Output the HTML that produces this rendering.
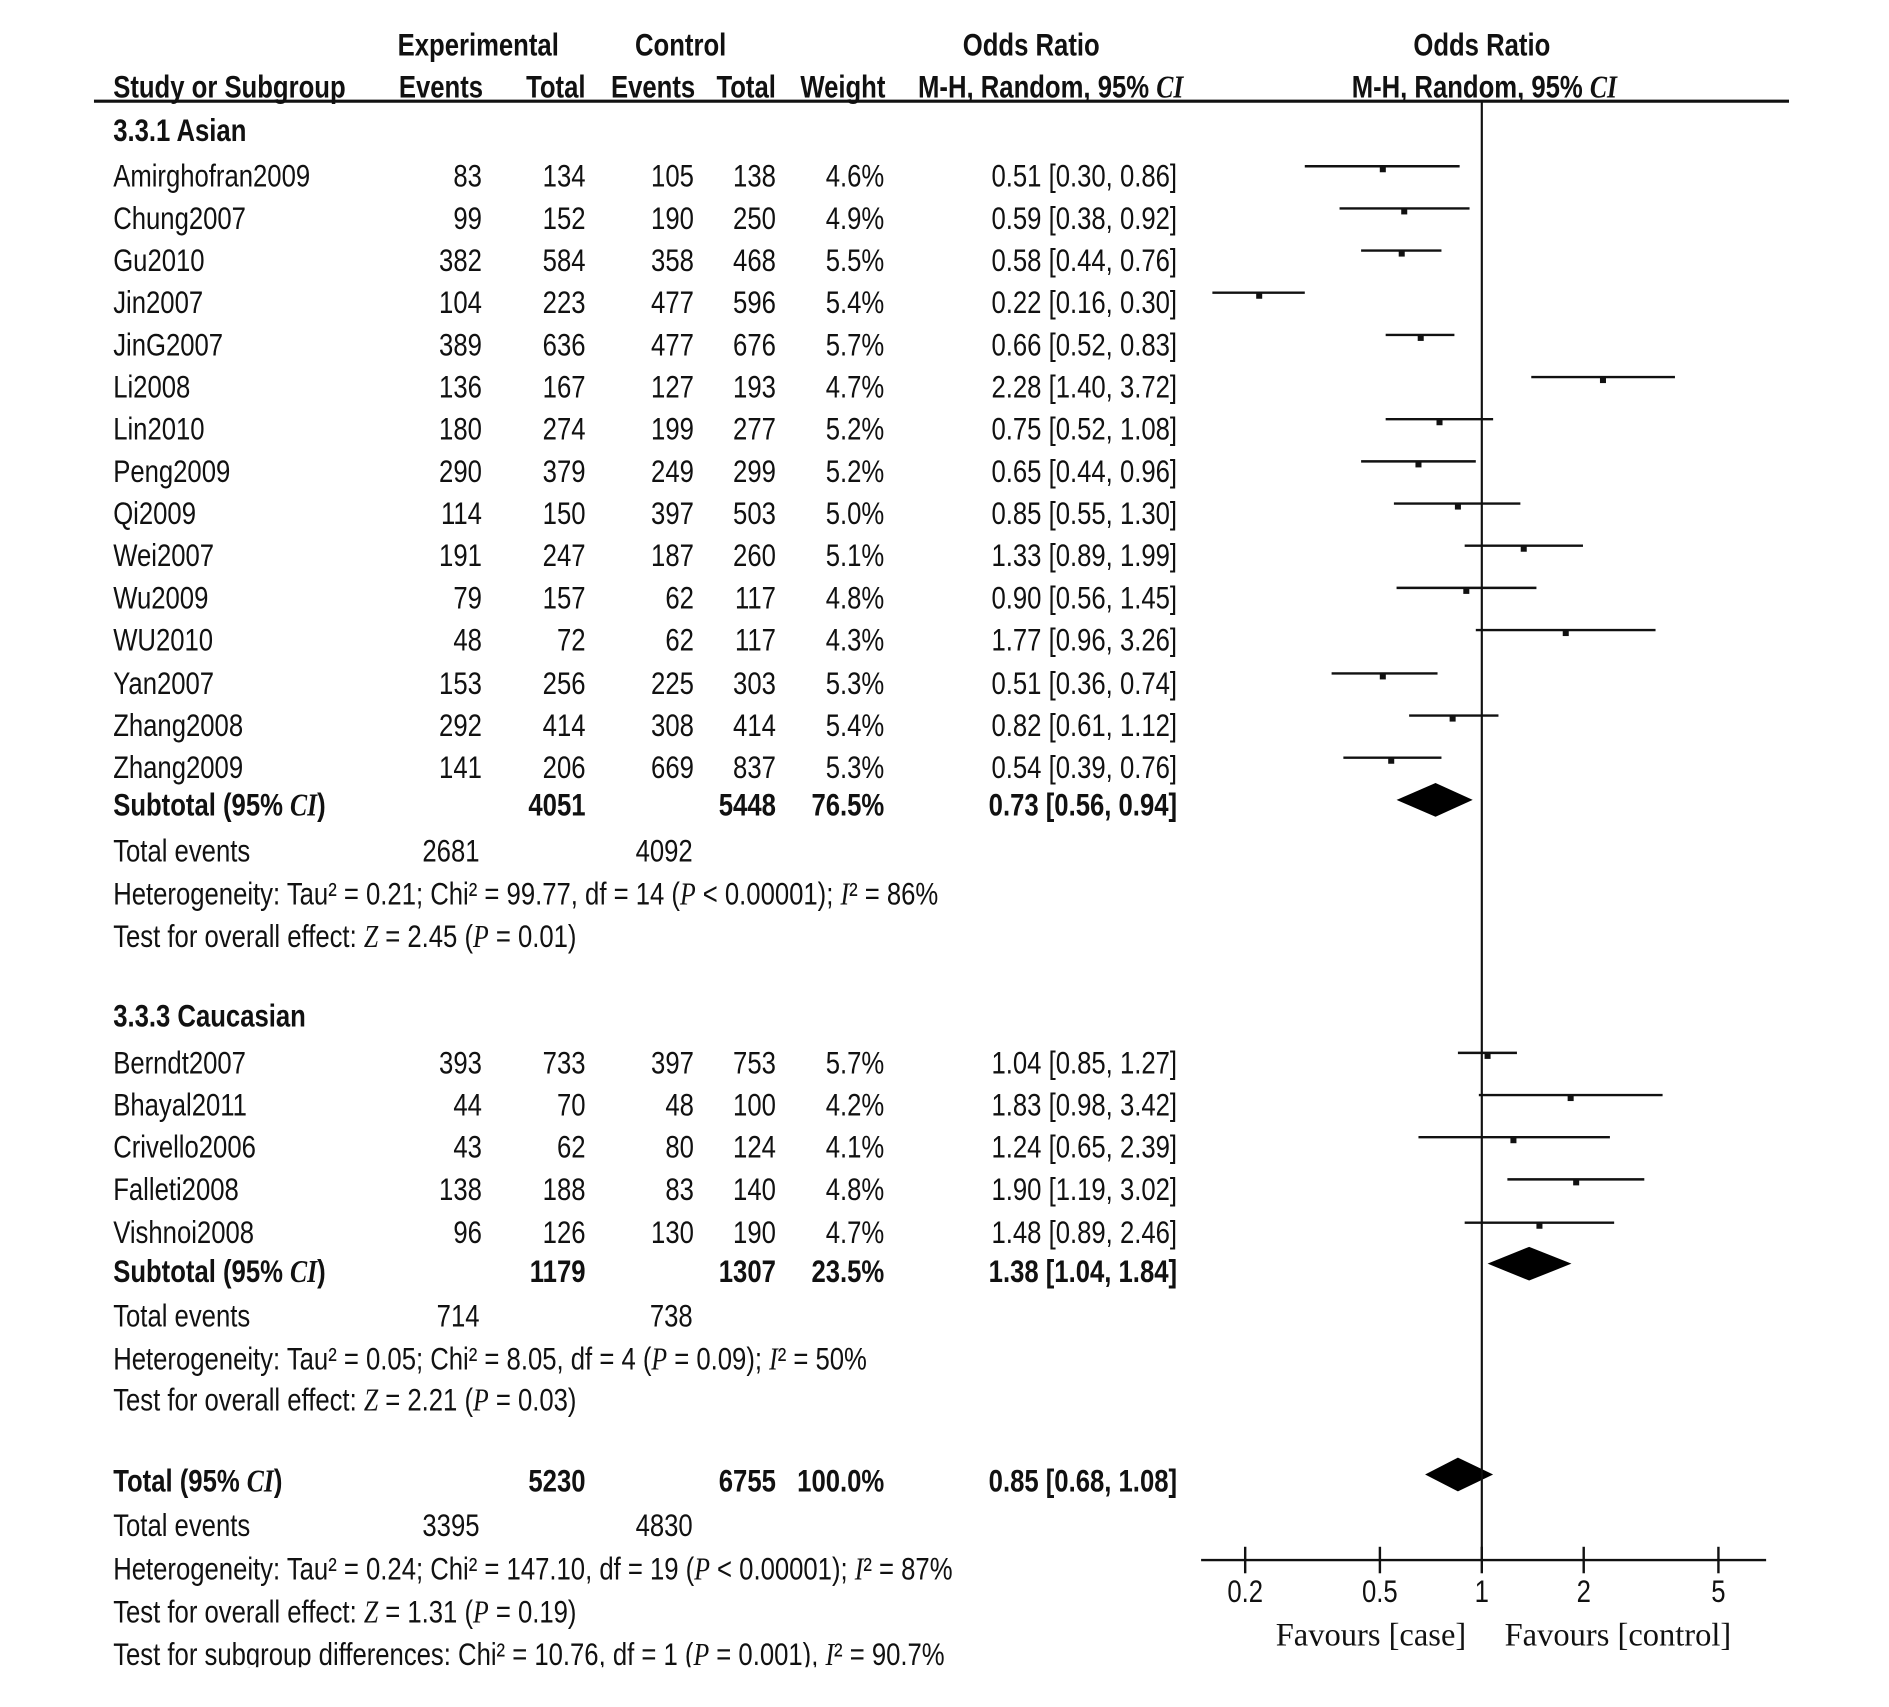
<!DOCTYPE html>
<html><head><meta charset="utf-8"><style>
html,body{margin:0;padding:0;background:#fff}
svg{display:block}
text{font-family:"Liberation Sans",Arial,sans-serif;font-size:26px;fill:#111}
.b{font-weight:bold}
.it{font-family:"Liberation Serif",serif;font-style:italic}
.serif{font-family:"Liberation Serif",serif;font-size:27px}
</style></head><body>
<svg id="chart" width="1889" height="1707" viewBox="0 0 1568 1417" preserveAspectRatio="none" xmlns="http://www.w3.org/2000/svg">
<rect width="1568" height="1417" fill="#fff"/>
<g id="txt" transform="scale(0.82,1)"></g>
<g id="plot"></g>
</svg>
<script>
const studies=["Amirghofran2009","Chung2007","Gu2010","Jin2007","JinG2007","Li2008","Lin2010","Peng2009","Qi2009","Wei2007","Wu2009","WU2010","Yan2007","Zhang2008","Zhang2009","Berndt2007","Bhayal2011","Crivello2006","Falleti2008","Vishnoi2008"];
const expEvents=[83,99,382,104,389,136,180,290,114,191,79,48,153,292,141,393,44,43,138,96];
const expTotal=[134,152,584,223,636,167,274,379,150,247,157,72,256,414,206,733,70,62,188,126];
const ctlEvents=[105,190,358,477,477,127,199,249,397,187,62,62,225,308,669,397,48,80,83,130];
const ctlTotal=[138,250,468,596,676,193,277,299,503,260,117,117,303,414,837,753,100,124,140,190];
const weights=["4.6%","4.9%","5.5%","5.4%","5.7%","4.7%","5.2%","5.2%","5.0%","5.1%","4.8%","4.3%","5.3%","5.4%","5.3%","5.7%","4.2%","4.1%","4.8%","4.7%"];
const orVal=[0.51,0.59,0.58,0.22,0.66,2.28,0.75,0.65,0.85,1.33,0.90,1.77,0.51,0.82,0.54,1.04,1.83,1.24,1.90,1.48];
const orLo=[0.30,0.38,0.44,0.16,0.52,1.40,0.52,0.44,0.55,0.89,0.56,0.96,0.36,0.61,0.39,0.85,0.98,0.65,1.19,0.89];
const orHi=[0.86,0.92,0.76,0.30,0.83,3.72,1.08,0.96,1.30,1.99,1.45,3.26,0.74,1.12,0.76,1.27,3.42,2.39,3.02,2.46];
const rowY=[146,181,216,251,286,321,356,391,426,461,496,531,567,602,637,882,917,952,987,1023];
const diamondOR=[0.73,1.38,0.85];
const diamondLo=[0.56,1.04,0.68];
const diamondHi=[0.94,1.84,1.08];
const diamondY=[664,1049,1224];
const ticks=[0.2,0.5,1,2,5];
const tickLabels=["0.2","0.5","1","2","5"];

const NS="http://www.w3.org/2000/svg";
const T=document.getElementById('txt'),P=document.getElementById('plot');
const SX=0.82;
const xs=v=>1230+281*Math.log10(v);
function txt(x,y,s,anchor,cls,name){
  const t=document.createElementNS(NS,'text');
  t.setAttribute('x',(x/SX).toFixed(1));t.setAttribute('y',y);
  if(anchor)t.setAttribute('text-anchor',anchor);
  if(cls)t.setAttribute('class',cls);
  t.innerHTML=s;
  
  
  T.appendChild(t);return t;
}
function el(tag,attrs,name){
  const e=document.createElementNS(NS,tag);
  for(const k in attrs)e.setAttribute(k,attrs[k]);
  
  
  P.appendChild(e);return e;
}
const I=s=>'<tspan class="it">'+s+'</tspan>';
txt(397,46,'Experimental','middle','b','header-experimental');
txt(565,46,'Control','middle','b','header-control');
txt(856,46,'Odds Ratio','middle','b','header-odds-ratio');
txt(1230,46,'Odds Ratio','middle','b','header-odds-ratio-plot');
txt(94,81,'Study or Subgroup','start','b','header-study');
txt(401,81,'Events','end','b','header-exp-events');
txt(486,81,'Total','end','b','header-exp-total');
txt(577,81,'Events','end','b','header-ctl-events');
txt(644,81,'Total','end','b','header-ctl-total');
txt(735,81,'Weight','end','b','header-weight');
txt(762,81,'M-H, Random, 95% '+I('CI'),'start','b','header-mh');
txt(1122,81,'M-H, Random, 95% '+I('CI'),'start','b','header-mh-plot');
el('line',{x1:78,y1:84,x2:1485,y2:84,stroke:'#111','stroke-width':2.5},'header-rule');
txt(94,117,'3.3.1 Asian','start','b','group-asian');
txt(94,852,'3.3.3 Caucasian','start','b','group-caucasian');
const f2=v=>v.toFixed(2);
studies.forEach((s,i)=>{
  const y=rowY[i]+9;
  txt(94,y,s,'start','','study-name');
  txt(400,y,expEvents[i],'end','','exp-events');
  txt(486,y,expTotal[i],'end','','exp-total');
  txt(576,y,ctlEvents[i],'end','','ctl-events');
  txt(644,y,ctlTotal[i],'end','','ctl-total');
  txt(734,y,weights[i],'end','','weight');
  txt(977,y,f2(orVal[i])+' ['+f2(orLo[i])+', '+f2(orHi[i])+']','end','','odds-ratio-ci');
  el('line',{x1:xs(orLo[i]),y1:rowY[i]-8,x2:xs(orHi[i]),y2:rowY[i]-8,stroke:'#111','stroke-width':2},'ci-line');
  el('rect',{x:xs(orVal[i])-2.5,y:rowY[i]-8,width:5,height:5,fill:'#111'},'study-marker');
});
const sub=[
 {y:668,label:'Subtotal (95% '+I('CI')+')',et:4051,ct:5448,w:'76.5%'},
 {y:1055,label:'Subtotal (95% '+I('CI')+')',et:1179,ct:1307,w:'23.5%'},
 {y:1229,label:'Total (95% '+I('CI')+')',et:5230,ct:6755,w:'100.0%'}];
sub.forEach((d,i)=>{
  const y=d.y+9;
  txt(94,y,d.label,'start','b','subtotal-label');
  txt(486,y,d.et,'end','b','subtotal-exp-total');
  txt(644,y,d.ct,'end','b','subtotal-ctl-total');
  txt(734,y,d.w,'end','b','subtotal-weight');
  txt(977,y,f2(diamondOR[i])+' ['+f2(diamondLo[i])+', '+f2(diamondHi[i])+']','end','b','subtotal-or');
  const cy=diamondY[i];
  el('polygon',{points:`${xs(diamondLo[i])},${cy} ${xs(diamondOR[i])},${cy-14} ${xs(diamondHi[i])},${cy} ${xs(diamondOR[i])},${cy+14}`,fill:'#000'},'summary-diamond');
});
const notes=[
 [715,'Total events','2681','4092'],[1101,'Total events','714','738'],[1275,'Total events','3395','4830']];
notes.forEach(n=>{txt(94,n[0],n[1],'start','','total-events-label');txt(398,n[0],n[2],'end','','total-events-exp');txt(575,n[0],n[3],'end','','total-events-ctl');});
txt(94,751,'Heterogeneity: Tau² = 0.21; Chi² = 99.77, df = 14 ('+I('P')+' &lt; 0.00001); '+I('I')+'² = 86%','start','','heterogeneity-asian');
txt(94,786,'Test for overall effect: '+I('Z')+' = 2.45 ('+I('P')+' = 0.01)','start','','overall-effect-asian');
txt(94,1137,'Heterogeneity: Tau² = 0.05; Chi² = 8.05, df = 4 ('+I('P')+' = 0.09); '+I('I')+'² = 50%','start','','heterogeneity-caucasian');
txt(94,1171,'Test for overall effect: '+I('Z')+' = 2.21 ('+I('P')+' = 0.03)','start','','overall-effect-caucasian');
txt(94,1311,'Heterogeneity: Tau² = 0.24; Chi² = 147.10, df = 19 ('+I('P')+' &lt; 0.00001); '+I('I')+'² = 87%','start','','heterogeneity-total');
txt(94,1347,'Test for overall effect: '+I('Z')+' = 1.31 ('+I('P')+' = 0.19)','start','','overall-effect-total');
txt(94,1382,'Test for subgroup differences: Chi² = 10.76, df = 1 ('+I('P')+' = 0.001), '+I('I')+'² = 90.7%','start','','subgroup-differences');
el('rect',{x:0,y:1384,width:1000,height:40,fill:'#fff'},'crop-mask');
el('line',{x1:1230,y1:84,x2:1230,y2:1296,stroke:'#111','stroke-width':1.8},'null-line');
el('line',{x1:997,y1:1295,x2:1466,y2:1295,stroke:'#111','stroke-width':2},'x-axis');
ticks.forEach((t,i)=>{
  el('line',{x1:xs(t),y1:1284,x2:xs(t),y2:1306,stroke:'#111','stroke-width':2},'x-tick');
  txt(xs(t),1330,tickLabels[i],'middle','','x-tick-label');
});
const f1=txt(1138,1366,'Favours [case]','middle','serif','favours-case');
const f2t=txt(1343,1366,'Favours [control]','middle','serif','favours-control');
[f1,f2t].forEach(t=>{t.setAttribute('x',t.getAttribute('x')*SX);P.appendChild(t);});
</script>
</body></html>
